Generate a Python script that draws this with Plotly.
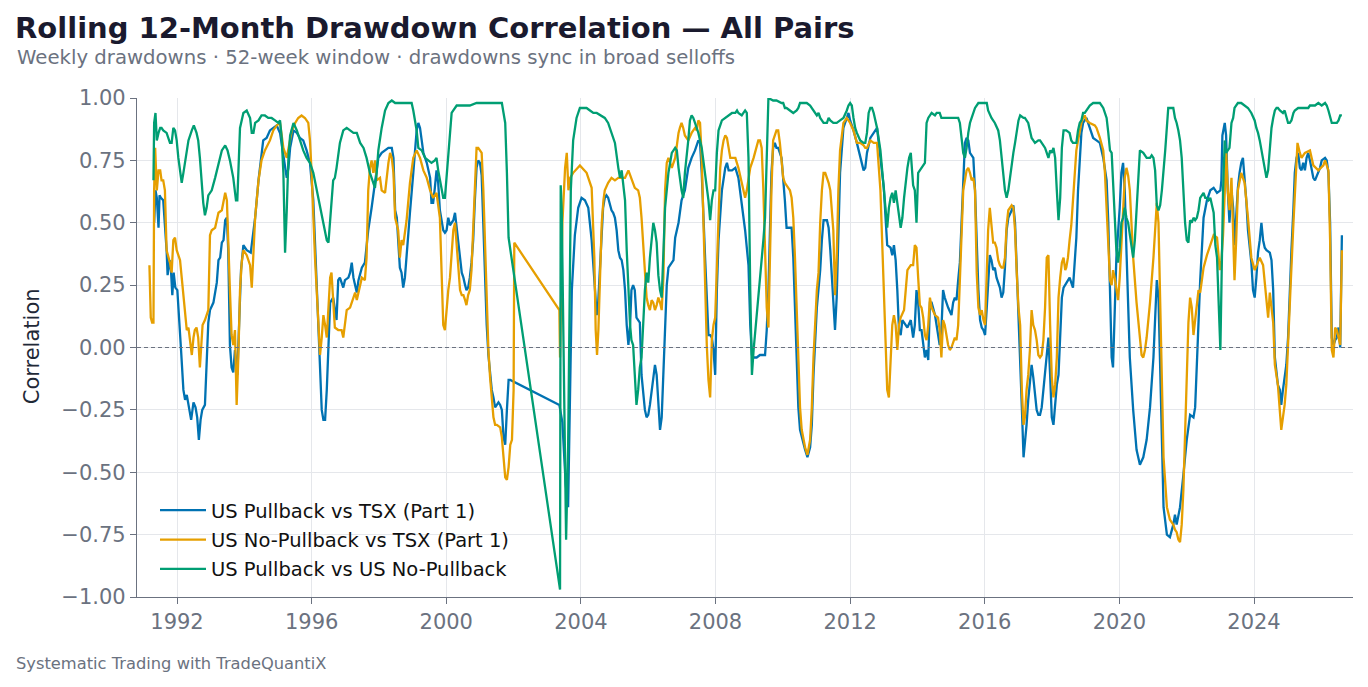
import numpy as np
import pandas as pd
import plotly.graph_objects as go

# (decimal year, correlation)
PB_TSX = [
    (1991.32, 0.50), (1991.36, 0.63), (1991.40, 0.60), (1991.45, 0.48), (1991.48, 0.61), (1991.52, 0.60),
    (1991.59, 0.59), (1991.64, 0.50), (1991.69, 0.39), (1991.72, 0.29), (1991.78, 0.35), (1991.82, 0.31),
    (1991.86, 0.21), (1991.90, 0.30), (1991.95, 0.24), (1992.01, 0.23), (1992.07, 0.12), (1992.12, -0.01),
    (1992.19, -0.17), (1992.24, -0.21), (1992.29, -0.19), (1992.35, -0.24), (1992.42, -0.29), (1992.49, -0.22),
    (1992.55, -0.24), (1992.60, -0.28), (1992.65, -0.37), (1992.70, -0.29), (1992.75, -0.25), (1992.83, -0.23),
    (1992.88, -0.09), (1992.93, 0.10), (1992.98, 0.15), (1993.08, 0.18), (1993.18, 0.26), (1993.23, 0.35),
    (1993.28, 0.36), (1993.33, 0.42), (1993.38, 0.43), (1993.43, 0.51), (1993.48, 0.52), (1993.52, 0.39),
    (1993.57, 0.01), (1993.62, -0.08), (1993.67, -0.10), (1993.72, -0.01), (1993.79, -0.11), (1993.85, 0.17),
    (1993.90, 0.31), (1993.97, 0.41), (1994.07, 0.39), (1994.19, 0.38), (1994.25, 0.44), (1994.32, 0.52),
    (1994.42, 0.67), (1994.51, 0.78), (1994.56, 0.83), (1994.66, 0.84), (1994.76, 0.87), (1994.86, 0.88),
    (1994.96, 0.89), (1995.06, 0.86), (1995.16, 0.76), (1995.26, 0.68), (1995.31, 0.72), (1995.36, 0.80),
    (1995.46, 0.87), (1995.56, 0.86), (1995.65, 0.84), (1995.75, 0.83), (1995.85, 0.79), (1995.95, 0.74),
    (1996.05, 0.59), (1996.15, 0.23), (1996.25, -0.11), (1996.30, -0.25), (1996.35, -0.29), (1996.40, -0.29),
    (1996.45, -0.17), (1996.50, 0.05), (1996.55, 0.18), (1996.64, 0.20), (1996.69, 0.15), (1996.74, 0.11),
    (1996.79, 0.27), (1996.84, 0.28), (1996.94, 0.24), (1996.99, 0.27), (1997.09, 0.28), (1997.14, 0.30),
    (1997.19, 0.34), (1997.24, 0.28), (1997.29, 0.25), (1997.34, 0.22), (1997.39, 0.27), (1997.49, 0.32),
    (1997.58, 0.34), (1997.68, 0.47), (1997.78, 0.56), (1997.88, 0.65), (1997.98, 0.76), (1998.08, 0.78),
    (1998.18, 0.79), (1998.28, 0.80), (1998.38, 0.80), (1998.43, 0.76), (1998.48, 0.55), (1998.53, 0.52),
    (1998.57, 0.43), (1998.62, 0.32), (1998.67, 0.30), (1998.72, 0.24), (1998.77, 0.28), (1998.82, 0.38),
    (1998.92, 0.54), (1999.02, 0.70), (1999.12, 0.87), (1999.17, 0.90), (1999.22, 0.88), (1999.27, 0.83),
    (1999.32, 0.78), (1999.42, 0.74), (1999.52, 0.68), (1999.56, 0.58), (1999.61, 0.58), (1999.66, 0.64),
    (1999.71, 0.71), (1999.76, 0.66), (1999.81, 0.55), (1999.91, 0.47), (1999.96, 0.46), (2000.01, 0.47),
    (2000.06, 0.52), (2000.11, 0.49), (2000.16, 0.50), (2000.21, 0.51), (2000.26, 0.54), (2000.31, 0.47),
    (2000.36, 0.40), (2000.41, 0.36), (2000.46, 0.30), (2000.51, 0.28), (2000.56, 0.25), (2000.60, 0.23),
    (2000.65, 0.24), (2000.70, 0.28), (2000.75, 0.34), (2000.80, 0.43), (2000.85, 0.59), (2000.90, 0.72),
    (2000.95, 0.75), (2001.00, 0.74), (2001.05, 0.69), (2001.10, 0.49), (2001.15, 0.25), (2001.20, 0.09),
    (2001.25, -0.03), (2001.30, -0.11), (2001.35, -0.17), (2001.40, -0.20), (2001.45, -0.24), (2001.50, -0.23),
    (2001.55, -0.22), (2001.60, -0.23), (2001.65, -0.25), (2001.70, -0.36), (2001.75, -0.39), (2001.80, -0.25),
    (2001.85, -0.13), (2001.90, -0.13), (2003.36, -0.23), (2003.45, -0.30), (2003.55, -0.55), (2003.62, -0.64),
    (2003.68, -0.15), (2003.73, 0.23), (2003.82, 0.45), (2003.92, 0.56), (2004.02, 0.60), (2004.12, 0.59),
    (2004.22, 0.56), (2004.32, 0.43), (2004.42, 0.23), (2004.47, 0.13), (2004.51, 0.17), (2004.56, 0.30),
    (2004.61, 0.47), (2004.66, 0.56), (2004.71, 0.60), (2004.76, 0.61), (2004.81, 0.60), (2004.86, 0.57),
    (2004.91, 0.55), (2004.96, 0.54), (2005.01, 0.52), (2005.06, 0.47), (2005.11, 0.39), (2005.16, 0.36),
    (2005.21, 0.35), (2005.26, 0.31), (2005.31, 0.23), (2005.36, 0.09), (2005.41, 0.01), (2005.46, 0.09),
    (2005.50, 0.23), (2005.55, 0.25), (2005.60, 0.23), (2005.65, 0.12), (2005.70, 0.11), (2005.75, 0.10),
    (2005.80, -0.11), (2005.85, -0.17), (2005.90, -0.25), (2005.95, -0.28), (2006.00, -0.27), (2006.05, -0.23),
    (2006.10, -0.17), (2006.15, -0.11), (2006.20, -0.07), (2006.25, -0.11), (2006.30, -0.24), (2006.35, -0.33),
    (2006.40, -0.28), (2006.45, -0.11), (2006.50, 0.09), (2006.55, 0.25), (2006.60, 0.32), (2006.70, 0.34),
    (2006.75, 0.35), (2006.80, 0.44), (2006.90, 0.50), (2006.99, 0.59), (2007.09, 0.63), (2007.19, 0.72),
    (2007.29, 0.76), (2007.39, 0.79), (2007.49, 0.83), (2007.54, 0.82), (2007.59, 0.70), (2007.69, 0.36),
    (2007.79, 0.05), (2007.84, 0.05), (2007.89, 0.04), (2007.94, -0.01), (2007.99, -0.11), (2008.04, 0.23),
    (2008.09, 0.43), (2008.19, 0.63), (2008.29, 0.72), (2008.34, 0.74), (2008.39, 0.71), (2008.49, 0.71),
    (2008.59, 0.72), (2008.68, 0.68), (2008.78, 0.58), (2008.88, 0.47), (2008.98, 0.33), (2009.03, 0.09),
    (2009.08, -0.03), (2009.13, -0.04), (2009.22, -0.04), (2009.32, -0.03), (2009.47, -0.03), (2009.52, 0.07),
    (2009.57, 0.23), (2009.61, 0.50), (2009.66, 0.70), (2009.71, 0.80), (2009.76, 0.82), (2009.81, 0.80),
    (2009.86, 0.80), (2009.96, 0.76), (2010.01, 0.68), (2010.06, 0.59), (2010.11, 0.48), (2010.16, 0.48),
    (2010.26, 0.48), (2010.31, 0.36), (2010.36, 0.16), (2010.41, -0.04), (2010.46, -0.24), (2010.51, -0.33),
    (2010.61, -0.39), (2010.66, -0.41), (2010.73, -0.44), (2010.81, -0.40), (2010.86, -0.31), (2010.91, -0.11),
    (2011.01, 0.16), (2011.06, 0.23), (2011.11, 0.31), (2011.16, 0.43), (2011.21, 0.51), (2011.31, 0.51),
    (2011.36, 0.48), (2011.41, 0.39), (2011.50, 0.20), (2011.55, 0.07), (2011.60, 0.20), (2011.65, 0.47),
    (2011.70, 0.70), (2011.80, 0.88), (2011.90, 0.92), (2011.95, 0.94), (2012.00, 0.91), (2012.10, 0.87),
    (2012.20, 0.82), (2012.30, 0.76), (2012.40, 0.71), (2012.45, 0.72), (2012.50, 0.78), (2012.60, 0.84),
    (2012.70, 0.86), (2012.80, 0.88), (2012.90, 0.76), (2013.00, 0.64), (2013.05, 0.52), (2013.10, 0.41),
    (2013.20, 0.40), (2013.25, 0.37), (2013.30, 0.41), (2013.35, 0.35), (2013.40, 0.23), (2013.45, 0.07),
    (2013.50, 0.05), (2013.55, 0.11), (2013.60, 0.10), (2013.70, 0.08), (2013.80, 0.11), (2013.87, 0.04),
    (2013.92, 0.09), (2013.97, 0.23), (2014.02, 0.18), (2014.07, 0.07), (2014.12, 0.07), (2014.17, 0.01),
    (2014.22, -0.04), (2014.27, -0.01), (2014.32, -0.05), (2014.37, 0.18), (2014.42, 0.18), (2014.52, 0.13),
    (2014.57, 0.09), (2014.61, 0.04), (2014.66, 0.01), (2014.71, 0.07), (2014.76, 0.23), (2014.81, 0.20),
    (2014.91, 0.16), (2015.01, 0.13), (2015.06, 0.18), (2015.11, 0.20), (2015.16, 0.19), (2015.21, 0.27),
    (2015.26, 0.34), (2015.31, 0.50), (2015.36, 0.70), (2015.41, 0.82), (2015.46, 0.84), (2015.51, 0.83),
    (2015.56, 0.78), (2015.66, 0.76), (2015.71, 0.63), (2015.76, 0.39), (2015.81, 0.23), (2015.86, 0.11),
    (2015.91, 0.08), (2015.96, 0.07), (2016.01, 0.05), (2016.06, 0.16), (2016.10, 0.28), (2016.15, 0.37),
    (2016.20, 0.35), (2016.25, 0.31), (2016.30, 0.32), (2016.35, 0.28), (2016.45, 0.24), (2016.50, 0.20),
    (2016.55, 0.22), (2016.60, 0.32), (2016.65, 0.47), (2016.70, 0.52), (2016.80, 0.55), (2016.85, 0.57),
    (2016.90, 0.50), (2016.95, 0.33), (2017.00, 0.11), (2017.05, -0.04), (2017.10, -0.24), (2017.15, -0.44),
    (2017.19, -0.39), (2017.24, -0.31), (2017.29, -0.21), (2017.34, -0.15), (2017.39, -0.07), (2017.44, -0.12),
    (2017.49, -0.19), (2017.54, -0.25), (2017.59, -0.27), (2017.64, -0.27), (2017.69, -0.24), (2017.74, -0.17),
    (2017.79, -0.11), (2017.84, -0.01), (2017.89, 0.04), (2017.94, -0.11), (2017.99, -0.28), (2018.04, -0.31),
    (2018.09, -0.23), (2018.14, -0.15), (2018.19, -0.11), (2018.24, 0.03), (2018.29, 0.20), (2018.34, 0.24),
    (2018.39, 0.25), (2018.42, 0.26), (2018.52, 0.28), (2018.62, 0.24), (2018.67, 0.36), (2018.72, 0.44),
    (2018.77, 0.63), (2018.82, 0.76), (2018.87, 0.86), (2018.92, 0.90), (2018.97, 0.91), (2019.02, 0.92),
    (2019.12, 0.88), (2019.22, 0.84), (2019.32, 0.83), (2019.42, 0.82), (2019.52, 0.76), (2019.62, 0.67),
    (2019.67, 0.50), (2019.72, 0.26), (2019.77, -0.04), (2019.81, -0.08), (2019.86, 0.10), (2019.91, 0.36),
    (2020.01, 0.56), (2020.06, 0.70), (2020.11, 0.74), (2020.16, 0.63), (2020.21, 0.39), (2020.26, 0.16),
    (2020.31, -0.04), (2020.41, -0.25), (2020.51, -0.41), (2020.61, -0.47), (2020.71, -0.44), (2020.81, -0.37),
    (2020.91, -0.24), (2021.01, -0.04), (2021.11, 0.27), (2021.16, 0.20), (2021.21, -0.11), (2021.26, -0.44),
    (2021.31, -0.64), (2021.41, -0.75), (2021.50, -0.76), (2021.60, -0.71), (2021.65, -0.67), (2021.70, -0.71),
    (2021.75, -0.68), (2021.80, -0.64), (2021.90, -0.51), (2022.00, -0.37), (2022.10, -0.27), (2022.20, -0.28),
    (2022.25, -0.24), (2022.30, -0.04), (2022.40, 0.27), (2022.50, 0.52), (2022.60, 0.59), (2022.70, 0.63),
    (2022.80, 0.64), (2022.90, 0.62), (2023.00, 0.63), (2023.03, 0.67), (2023.06, 0.85), (2023.13, 0.90),
    (2023.17, 0.85), (2023.22, 0.63), (2023.27, 0.50), (2023.33, 0.63), (2023.38, 0.56), (2023.42, 0.41),
    (2023.47, 0.52), (2023.52, 0.64), (2023.57, 0.70), (2023.62, 0.74), (2023.67, 0.76), (2023.72, 0.68),
    (2023.77, 0.59), (2023.82, 0.47), (2023.92, 0.34), (2023.97, 0.23), (2024.02, 0.20), (2024.07, 0.28),
    (2024.12, 0.38), (2024.17, 0.43), (2024.22, 0.50), (2024.27, 0.43), (2024.32, 0.40), (2024.37, 0.39),
    (2024.47, 0.38), (2024.52, 0.35), (2024.57, 0.23), (2024.62, -0.04), (2024.67, -0.09), (2024.71, -0.15),
    (2024.77, -0.17), (2024.81, -0.23), (2024.86, -0.17), (2024.91, -0.12), (2024.96, -0.07), (2025.01, 0.04),
    (2025.06, 0.23), (2025.11, 0.39), (2025.17, 0.56), (2025.21, 0.70), (2025.26, 0.76), (2025.31, 0.78),
    (2025.36, 0.72), (2025.41, 0.71), (2025.46, 0.74), (2025.51, 0.71), (2025.56, 0.76), (2025.61, 0.78),
    (2025.66, 0.75), (2025.71, 0.72), (2025.76, 0.68), (2025.81, 0.67), (2025.91, 0.70), (2025.96, 0.72),
    (2026.01, 0.75), (2026.11, 0.76), (2026.16, 0.75), (2026.21, 0.70), (2026.26, 0.50), (2026.31, 0.04),
    (2026.36, 0.01), (2026.41, 0.03), (2026.46, 0.04), (2026.51, 0.08), (2026.56, 0.00), (2026.61, 0.45),
]

NOPB_TSX = [
    (1991.18, 0.33), (1991.22, 0.12), (1991.26, 0.10), (1991.30, 0.10), (1991.32, 0.63), (1991.35, 0.80),
    (1991.40, 0.63), (1991.45, 0.71), (1991.50, 0.71), (1991.54, 0.67), (1991.59, 0.67), (1991.64, 0.63),
    (1991.69, 0.39), (1991.75, 0.36), (1991.79, 0.34), (1991.84, 0.30), (1991.89, 0.43), (1991.94, 0.44),
    (1991.99, 0.39), (1992.04, 0.37), (1992.09, 0.35), (1992.14, 0.28), (1992.19, 0.20), (1992.24, 0.12),
    (1992.29, 0.07), (1992.34, 0.08), (1992.39, 0.01), (1992.44, -0.03), (1992.49, 0.04), (1992.53, 0.07),
    (1992.58, 0.08), (1992.63, 0.04), (1992.68, -0.08), (1992.73, 0.03), (1992.76, 0.09), (1992.83, 0.11),
    (1992.93, 0.15), (1992.98, 0.45), (1993.03, 0.47), (1993.13, 0.48), (1993.23, 0.54), (1993.33, 0.55),
    (1993.38, 0.59), (1993.43, 0.62), (1993.48, 0.59), (1993.52, 0.46), (1993.57, 0.23), (1993.62, 0.05),
    (1993.67, 0.01), (1993.72, 0.07), (1993.77, -0.23), (1993.82, -0.04), (1993.87, 0.23), (1993.92, 0.34),
    (1993.97, 0.39), (1994.07, 0.37), (1994.17, 0.33), (1994.22, 0.24), (1994.27, 0.39), (1994.32, 0.52),
    (1994.42, 0.67), (1994.51, 0.75), (1994.61, 0.79), (1994.76, 0.83), (1994.86, 0.87), (1994.96, 0.89),
    (1995.06, 0.90), (1995.16, 0.80), (1995.26, 0.76), (1995.41, 0.87), (1995.51, 0.90), (1995.60, 0.92),
    (1995.70, 0.93), (1995.80, 0.92), (1995.90, 0.90), (1995.95, 0.83), (1996.00, 0.70), (1996.10, 0.36),
    (1996.20, 0.10), (1996.25, -0.03), (1996.30, 0.04), (1996.35, 0.13), (1996.40, 0.09), (1996.45, 0.04),
    (1996.50, 0.16), (1996.55, 0.28), (1996.59, 0.30), (1996.64, 0.20), (1996.69, 0.08), (1996.79, 0.07),
    (1996.89, 0.07), (1996.94, 0.04), (1996.99, 0.09), (1997.04, 0.15), (1997.14, 0.16), (1997.24, 0.20),
    (1997.29, 0.22), (1997.34, 0.19), (1997.39, 0.22), (1997.44, 0.24), (1997.49, 0.28), (1997.58, 0.27),
    (1997.63, 0.36), (1997.68, 0.63), (1997.73, 0.72), (1997.78, 0.75), (1997.83, 0.70), (1997.88, 0.75),
    (1997.93, 0.67), (1998.03, 0.68), (1998.08, 0.63), (1998.18, 0.62), (1998.23, 0.69), (1998.28, 0.74),
    (1998.33, 0.78), (1998.38, 0.76), (1998.43, 0.70), (1998.48, 0.52), (1998.57, 0.47), (1998.62, 0.36),
    (1998.67, 0.43), (1998.72, 0.41), (1998.82, 0.51), (1998.92, 0.66), (1999.02, 0.76), (1999.12, 0.79),
    (1999.22, 0.76), (1999.32, 0.71), (1999.42, 0.68), (1999.52, 0.63), (1999.61, 0.60), (1999.71, 0.62),
    (1999.81, 0.52), (1999.91, 0.09), (1999.96, 0.07), (2000.01, 0.16), (2000.06, 0.23), (2000.11, 0.28),
    (2000.16, 0.39), (2000.21, 0.47), (2000.26, 0.50), (2000.31, 0.42), (2000.36, 0.32), (2000.41, 0.23),
    (2000.46, 0.21), (2000.51, 0.21), (2000.56, 0.19), (2000.60, 0.17), (2000.65, 0.21), (2000.70, 0.23),
    (2000.75, 0.31), (2000.80, 0.50), (2000.85, 0.68), (2000.90, 0.80), (2000.95, 0.80), (2001.00, 0.79),
    (2001.05, 0.78), (2001.10, 0.63), (2001.15, 0.39), (2001.20, 0.18), (2001.25, -0.01), (2001.30, -0.12),
    (2001.35, -0.21), (2001.40, -0.28), (2001.45, -0.31), (2001.50, -0.31), (2001.60, -0.32), (2001.65, -0.36),
    (2001.70, -0.44), (2001.75, -0.52), (2001.80, -0.53), (2001.85, -0.48), (2001.90, -0.39), (2001.95, -0.37),
    (2002.00, -0.17), (2002.02, 0.42), (2003.36, 0.15), (2003.38, -0.04), (2003.45, 0.50), (2003.53, 0.72),
    (2003.58, 0.78), (2003.63, 0.63), (2003.68, 0.68), (2003.77, 0.70), (2003.97, 0.73), (2004.17, 0.70),
    (2004.32, 0.64), (2004.40, 0.36), (2004.44, 0.07), (2004.48, -0.03), (2004.52, 0.07), (2004.57, 0.30),
    (2004.62, 0.50), (2004.67, 0.59), (2004.71, 0.63), (2004.81, 0.66), (2004.91, 0.68), (2005.01, 0.67),
    (2005.11, 0.68), (2005.21, 0.68), (2005.31, 0.68), (2005.41, 0.71), (2005.50, 0.68), (2005.60, 0.64),
    (2005.70, 0.63), (2005.75, 0.60), (2005.80, 0.52), (2005.85, 0.40), (2005.90, 0.28), (2005.95, 0.20),
    (2006.00, 0.17), (2006.05, 0.15), (2006.10, 0.19), (2006.15, 0.18), (2006.20, 0.15), (2006.25, 0.17),
    (2006.30, 0.20), (2006.35, 0.18), (2006.40, 0.15), (2006.45, 0.28), (2006.50, 0.63), (2006.55, 0.74),
    (2006.60, 0.76), (2006.70, 0.72), (2006.80, 0.76), (2006.85, 0.82), (2006.90, 0.86), (2006.94, 0.88),
    (2006.99, 0.90), (2007.04, 0.88), (2007.09, 0.85), (2007.19, 0.83), (2007.29, 0.86), (2007.39, 0.88),
    (2007.44, 0.87), (2007.49, 0.91), (2007.54, 0.90), (2007.59, 0.76), (2007.64, 0.50), (2007.69, 0.23),
    (2007.74, 0.01), (2007.79, -0.13), (2007.84, -0.20), (2007.89, 0.03), (2007.94, 0.09), (2007.99, 0.12),
    (2008.04, 0.32), (2008.09, 0.56), (2008.14, 0.72), (2008.19, 0.79), (2008.24, 0.83), (2008.29, 0.85),
    (2008.34, 0.84), (2008.39, 0.80), (2008.44, 0.76), (2008.49, 0.76), (2008.59, 0.76), (2008.68, 0.72),
    (2008.78, 0.66), (2008.88, 0.60), (2008.93, 0.63), (2009.03, 0.72), (2009.13, 0.76), (2009.22, 0.80),
    (2009.27, 0.83), (2009.32, 0.83), (2009.37, 0.80), (2009.42, 0.63), (2009.47, 0.36), (2009.52, 0.16),
    (2009.57, 0.08), (2009.61, 0.36), (2009.66, 0.63), (2009.71, 0.83), (2009.81, 0.87), (2009.86, 0.87),
    (2009.91, 0.82), (2010.01, 0.68), (2010.06, 0.66), (2010.16, 0.64), (2010.21, 0.63), (2010.26, 0.60),
    (2010.31, 0.52), (2010.36, 0.36), (2010.41, 0.16), (2010.46, -0.11), (2010.51, -0.24), (2010.56, -0.33),
    (2010.61, -0.37), (2010.66, -0.40), (2010.73, -0.43), (2010.81, -0.37), (2010.86, -0.24), (2010.91, -0.04),
    (2011.01, 0.23), (2011.06, 0.30), (2011.11, 0.50), (2011.16, 0.63), (2011.21, 0.70), (2011.26, 0.70),
    (2011.31, 0.68), (2011.36, 0.66), (2011.41, 0.63), (2011.50, 0.47), (2011.55, 0.21), (2011.60, 0.36),
    (2011.65, 0.63), (2011.70, 0.79), (2011.80, 0.90), (2011.90, 0.92), (2012.00, 0.90), (2012.10, 0.87),
    (2012.20, 0.82), (2012.30, 0.82), (2012.40, 0.81), (2012.45, 0.80), (2012.50, 0.80), (2012.60, 0.83),
    (2012.70, 0.82), (2012.80, 0.82), (2012.90, 0.63), (2012.95, 0.43), (2013.00, 0.23), (2013.05, -0.04),
    (2013.10, -0.17), (2013.15, -0.20), (2013.20, -0.04), (2013.25, 0.09), (2013.30, 0.13), (2013.35, 0.09),
    (2013.40, -0.01), (2013.45, 0.09), (2013.50, 0.12), (2013.60, 0.15), (2013.65, 0.23), (2013.70, 0.31),
    (2013.80, 0.33), (2013.87, 0.33), (2013.92, 0.41), (2013.97, 0.40), (2014.02, 0.28), (2014.07, 0.17),
    (2014.12, 0.16), (2014.17, 0.12), (2014.22, 0.05), (2014.27, 0.03), (2014.32, 0.09), (2014.37, 0.20),
    (2014.42, 0.16), (2014.52, 0.13), (2014.61, 0.12), (2014.66, 0.07), (2014.71, -0.04), (2014.76, 0.11),
    (2014.81, 0.09), (2014.86, 0.05), (2014.91, 0.01), (2014.96, -0.01), (2015.01, 0.00), (2015.11, 0.04),
    (2015.16, 0.03), (2015.21, 0.09), (2015.26, 0.29), (2015.31, 0.43), (2015.36, 0.63), (2015.41, 0.67),
    (2015.46, 0.71), (2015.51, 0.72), (2015.56, 0.70), (2015.61, 0.67), (2015.66, 0.68), (2015.71, 0.63),
    (2015.76, 0.30), (2015.81, 0.16), (2015.86, 0.13), (2015.91, 0.15), (2015.96, 0.11), (2016.01, 0.09),
    (2016.06, 0.26), (2016.10, 0.47), (2016.15, 0.56), (2016.20, 0.50), (2016.25, 0.42), (2016.30, 0.42),
    (2016.35, 0.40), (2016.40, 0.35), (2016.45, 0.33), (2016.50, 0.32), (2016.55, 0.32), (2016.60, 0.36),
    (2016.65, 0.49), (2016.70, 0.55), (2016.80, 0.57), (2016.85, 0.56), (2016.90, 0.47), (2016.95, 0.30),
    (2017.00, 0.16), (2017.05, 0.09), (2017.10, -0.17), (2017.15, -0.31), (2017.19, -0.28), (2017.24, -0.17),
    (2017.29, -0.11), (2017.34, -0.01), (2017.39, 0.15), (2017.44, 0.09), (2017.49, 0.07), (2017.54, 0.03),
    (2017.59, -0.03), (2017.64, -0.04), (2017.69, -0.03), (2017.74, 0.03), (2017.79, 0.16), (2017.84, 0.36),
    (2017.89, 0.37), (2017.94, 0.09), (2017.99, -0.12), (2018.04, -0.20), (2018.09, -0.15), (2018.14, -0.04),
    (2018.19, 0.20), (2018.24, 0.28), (2018.29, 0.34), (2018.34, 0.36), (2018.39, 0.31), (2018.42, 0.32),
    (2018.47, 0.36), (2018.52, 0.43), (2018.57, 0.49), (2018.62, 0.59), (2018.67, 0.70), (2018.72, 0.79),
    (2018.77, 0.83), (2018.82, 0.87), (2018.87, 0.90), (2018.92, 0.92), (2018.97, 0.93), (2019.02, 0.91),
    (2019.12, 0.90), (2019.27, 0.89), (2019.32, 0.88), (2019.42, 0.84), (2019.52, 0.79), (2019.57, 0.70),
    (2019.62, 0.56), (2019.67, 0.43), (2019.72, 0.27), (2019.77, 0.25), (2019.81, 0.31), (2019.86, 0.28),
    (2019.91, 0.23), (2019.96, 0.19), (2020.01, 0.28), (2020.06, 0.43), (2020.11, 0.56), (2020.16, 0.68),
    (2020.21, 0.72), (2020.26, 0.69), (2020.31, 0.63), (2020.36, 0.50), (2020.41, 0.36), (2020.51, 0.18),
    (2020.61, 0.03), (2020.66, -0.03), (2020.71, -0.04), (2020.76, -0.01), (2020.81, 0.04), (2020.91, 0.18),
    (2021.01, 0.36), (2021.06, 0.50), (2021.11, 0.58), (2021.16, 0.50), (2021.21, 0.16), (2021.26, -0.17),
    (2021.31, -0.44), (2021.41, -0.64), (2021.50, -0.69), (2021.60, -0.71), (2021.65, -0.73), (2021.70, -0.74),
    (2021.75, -0.77), (2021.80, -0.78), (2021.85, -0.71), (2021.90, -0.57), (2021.95, -0.31), (2022.00, -0.11),
    (2022.05, 0.10), (2022.10, 0.20), (2022.15, 0.16), (2022.20, 0.05), (2022.25, 0.11), (2022.30, 0.17),
    (2022.35, 0.23), (2022.40, 0.22), (2022.50, 0.32), (2022.60, 0.37), (2022.70, 0.41), (2022.80, 0.45),
    (2022.90, 0.44), (2022.98, 0.31), (2023.03, 0.35), (2023.08, 0.45), (2023.13, 0.62), (2023.17, 0.79),
    (2023.22, 0.63), (2023.27, 0.55), (2023.33, 0.68), (2023.38, 0.45), (2023.42, 0.27), (2023.47, 0.43),
    (2023.52, 0.63), (2023.62, 0.70), (2023.72, 0.66), (2023.82, 0.52), (2023.92, 0.36), (2024.02, 0.31),
    (2024.12, 0.34), (2024.17, 0.36), (2024.27, 0.33), (2024.37, 0.17), (2024.42, 0.12), (2024.47, 0.22),
    (2024.57, 0.10), (2024.62, -0.07), (2024.71, -0.15), (2024.81, -0.33), (2024.91, -0.23), (2024.96, -0.15),
    (2025.01, 0.03), (2025.08, 0.23), (2025.17, 0.50), (2025.24, 0.70), (2025.29, 0.82), (2025.36, 0.78),
    (2025.41, 0.76), (2025.51, 0.78), (2025.66, 0.79), (2025.76, 0.73), (2025.91, 0.71), (2026.06, 0.73),
    (2026.11, 0.75), (2026.21, 0.71), (2026.26, 0.43), (2026.31, -0.01), (2026.36, -0.04), (2026.41, 0.08),
    (2026.46, 0.07), (2026.51, 0.04), (2026.56, 0.01), (2026.61, 0.39),
]

PB_NOPB = [
    (1991.30, 0.67), (1991.32, 0.90), (1991.36, 0.94), (1991.40, 0.83), (1991.45, 0.86), (1991.50, 0.88),
    (1991.54, 0.88), (1991.59, 0.87), (1991.69, 0.86), (1991.75, 0.84), (1991.79, 0.82), (1991.84, 0.82),
    (1991.89, 0.88), (1991.94, 0.87), (1991.99, 0.83), (1992.04, 0.76), (1992.09, 0.70), (1992.14, 0.66),
    (1992.19, 0.70), (1992.24, 0.75), (1992.34, 0.83), (1992.44, 0.87), (1992.50, 0.89), (1992.58, 0.86),
    (1992.63, 0.83), (1992.68, 0.76), (1992.73, 0.67), (1992.78, 0.58), (1992.83, 0.53), (1992.88, 0.56),
    (1992.93, 0.61), (1993.03, 0.63), (1993.13, 0.68), (1993.23, 0.74), (1993.33, 0.79), (1993.43, 0.81),
    (1993.50, 0.79), (1993.57, 0.75), (1993.67, 0.68), (1993.75, 0.59), (1993.79, 0.59), (1993.87, 0.88),
    (1993.97, 0.94), (1994.07, 0.95), (1994.17, 0.92), (1994.22, 0.86), (1994.27, 0.86), (1994.32, 0.90),
    (1994.42, 0.91), (1994.51, 0.93), (1994.61, 0.93), (1994.71, 0.92), (1994.81, 0.92), (1994.91, 0.91),
    (1995.01, 0.90), (1995.06, 0.91), (1995.11, 0.84), (1995.16, 0.70), (1995.21, 0.38), (1995.26, 0.55),
    (1995.31, 0.76), (1995.36, 0.85), (1995.46, 0.90), (1995.56, 0.87), (1995.65, 0.83), (1995.75, 0.79),
    (1995.85, 0.76), (1995.95, 0.74), (1996.05, 0.70), (1996.15, 0.63), (1996.25, 0.56), (1996.35, 0.50),
    (1996.45, 0.43), (1996.50, 0.42), (1996.55, 0.50), (1996.59, 0.59), (1996.64, 0.67), (1996.69, 0.68),
    (1996.74, 0.72), (1996.84, 0.82), (1996.94, 0.87), (1997.04, 0.88), (1997.14, 0.87), (1997.24, 0.86),
    (1997.34, 0.86), (1997.44, 0.82), (1997.54, 0.80), (1997.63, 0.76), (1997.73, 0.70), (1997.78, 0.68),
    (1997.83, 0.66), (1997.88, 0.64), (1997.93, 0.70), (1997.98, 0.79), (1998.08, 0.88), (1998.18, 0.95),
    (1998.28, 0.98), (1998.38, 0.99), (1998.48, 0.98), (1998.57, 0.98), (1998.67, 0.98), (1998.77, 0.98),
    (1998.97, 0.98), (1999.02, 0.95), (1999.12, 0.87), (1999.17, 0.80), (1999.27, 0.79), (1999.37, 0.76),
    (1999.47, 0.75), (1999.56, 0.74), (1999.66, 0.75), (1999.71, 0.76), (1999.76, 0.71), (1999.86, 0.63),
    (1999.91, 0.60), (1999.96, 0.60), (2000.01, 0.68), (2000.06, 0.79), (2000.11, 0.87), (2000.16, 0.94),
    (2000.21, 0.95), (2000.31, 0.97), (2000.41, 0.97), (2000.51, 0.97), (2000.70, 0.97), (2000.90, 0.98),
    (2001.10, 0.98), (2001.30, 0.98), (2001.50, 0.98), (2001.65, 0.98), (2001.70, 0.94), (2001.75, 0.90),
    (2001.80, 0.70), (2001.85, 0.44), (2003.38, -0.97), (2003.40, 0.65), (2003.43, 0.55), (2003.56, -0.77),
    (2003.62, -0.40), (2003.70, 0.63), (2003.77, 0.83), (2003.87, 0.92), (2003.97, 0.96), (2004.07, 0.96),
    (2004.17, 0.96), (2004.27, 0.95), (2004.37, 0.94), (2004.47, 0.94), (2004.61, 0.93), (2004.71, 0.92),
    (2004.81, 0.90), (2004.91, 0.86), (2005.01, 0.82), (2005.11, 0.72), (2005.16, 0.68), (2005.21, 0.71),
    (2005.31, 0.59), (2005.36, 0.39), (2005.41, 0.23), (2005.46, 0.09), (2005.50, 0.03), (2005.55, 0.01),
    (2005.60, -0.11), (2005.65, -0.23), (2005.70, -0.17), (2005.75, -0.08), (2005.80, -0.04), (2005.85, 0.09),
    (2005.90, 0.23), (2005.95, 0.30), (2006.00, 0.26), (2006.05, 0.36), (2006.10, 0.43), (2006.15, 0.50),
    (2006.20, 0.47), (2006.25, 0.42), (2006.30, 0.29), (2006.35, 0.23), (2006.40, 0.20), (2006.45, 0.36),
    (2006.50, 0.56), (2006.60, 0.70), (2006.70, 0.78), (2006.80, 0.80), (2006.85, 0.79), (2006.90, 0.72),
    (2006.94, 0.67), (2006.99, 0.63), (2007.04, 0.60), (2007.09, 0.70), (2007.19, 0.83), (2007.24, 0.91),
    (2007.29, 0.93), (2007.34, 0.92), (2007.39, 0.90), (2007.49, 0.86), (2007.59, 0.80), (2007.69, 0.70),
    (2007.74, 0.64), (2007.79, 0.59), (2007.84, 0.51), (2007.89, 0.59), (2007.94, 0.63), (2007.99, 0.63),
    (2008.04, 0.78), (2008.09, 0.87), (2008.19, 0.91), (2008.29, 0.92), (2008.39, 0.93), (2008.49, 0.94),
    (2008.59, 0.94), (2008.64, 0.95), (2008.68, 0.94), (2008.78, 0.93), (2008.83, 0.94), (2008.88, 0.95),
    (2008.93, 0.94), (2008.98, 0.76), (2009.03, 0.23), (2009.08, -0.11), (2009.13, -0.01), (2009.22, 0.12),
    (2009.32, 0.27), (2009.42, 0.43), (2009.47, 0.52), (2009.52, 0.76), (2009.55, 0.99), (2009.57, 1.00),
    (2009.71, 0.99), (2009.81, 0.99), (2009.96, 0.98), (2010.01, 0.98), (2010.06, 0.96), (2010.11, 0.96),
    (2010.21, 0.95), (2010.31, 0.94), (2010.41, 0.95), (2010.46, 0.96), (2010.51, 0.98), (2010.61, 0.98),
    (2010.71, 0.98), (2010.81, 0.97), (2010.86, 0.96), (2010.91, 0.95), (2010.96, 0.94), (2011.01, 0.93),
    (2011.06, 0.94), (2011.11, 0.92), (2011.16, 0.91), (2011.21, 0.90), (2011.31, 0.90), (2011.36, 0.92),
    (2011.41, 0.91), (2011.50, 0.90), (2011.55, 0.90), (2011.60, 0.90), (2011.70, 0.91), (2011.80, 0.92),
    (2011.90, 0.95), (2011.95, 0.97), (2012.00, 0.98), (2012.05, 0.97), (2012.10, 0.92), (2012.15, 0.88),
    (2012.20, 0.86), (2012.30, 0.83), (2012.40, 0.82), (2012.45, 0.82), (2012.50, 0.86), (2012.55, 0.94),
    (2012.60, 0.96), (2012.65, 0.96), (2012.70, 0.94), (2012.80, 0.88), (2012.90, 0.79), (2013.00, 0.63),
    (2013.05, 0.56), (2013.10, 0.48), (2013.15, 0.56), (2013.20, 0.60), (2013.25, 0.62), (2013.30, 0.58),
    (2013.35, 0.63), (2013.40, 0.58), (2013.45, 0.52), (2013.50, 0.48), (2013.55, 0.52), (2013.60, 0.60),
    (2013.70, 0.72), (2013.75, 0.76), (2013.80, 0.78), (2013.87, 0.65), (2013.92, 0.63), (2013.97, 0.50),
    (2014.02, 0.70), (2014.07, 0.71), (2014.12, 0.72), (2014.22, 0.74), (2014.27, 0.90), (2014.32, 0.92),
    (2014.42, 0.94), (2014.52, 0.93), (2014.57, 0.94), (2014.66, 0.94), (2014.71, 0.92), (2014.81, 0.92),
    (2015.01, 0.92), (2015.21, 0.92), (2015.26, 0.90), (2015.31, 0.84), (2015.36, 0.78), (2015.41, 0.76),
    (2015.46, 0.80), (2015.51, 0.86), (2015.56, 0.90), (2015.61, 0.92), (2015.66, 0.94), (2015.71, 0.96),
    (2015.81, 0.98), (2015.91, 0.98), (2016.01, 0.98), (2016.06, 0.98), (2016.10, 0.95), (2016.20, 0.92),
    (2016.30, 0.90), (2016.40, 0.87), (2016.45, 0.83), (2016.50, 0.76), (2016.55, 0.70), (2016.60, 0.63),
    (2016.65, 0.60), (2016.70, 0.63), (2016.75, 0.68), (2016.80, 0.74), (2016.85, 0.78), (2016.90, 0.82),
    (2016.95, 0.87), (2017.00, 0.91), (2017.05, 0.93), (2017.15, 0.92), (2017.19, 0.92), (2017.24, 0.91),
    (2017.29, 0.90), (2017.34, 0.87), (2017.39, 0.84), (2017.44, 0.83), (2017.49, 0.82), (2017.59, 0.83),
    (2017.64, 0.83), (2017.69, 0.82), (2017.74, 0.81), (2017.79, 0.80), (2017.84, 0.78), (2017.89, 0.76),
    (2017.94, 0.79), (2017.99, 0.78), (2018.04, 0.80), (2018.09, 0.76), (2018.14, 0.63), (2018.19, 0.51),
    (2018.24, 0.60), (2018.29, 0.80), (2018.34, 0.87), (2018.42, 0.87), (2018.52, 0.86), (2018.57, 0.83),
    (2018.62, 0.82), (2018.72, 0.82), (2018.77, 0.87), (2018.82, 0.90), (2018.87, 0.91), (2018.92, 0.94),
    (2018.97, 0.94), (2019.02, 0.95), (2019.12, 0.97), (2019.22, 0.98), (2019.32, 0.98), (2019.42, 0.98),
    (2019.52, 0.96), (2019.62, 0.92), (2019.67, 0.86), (2019.72, 0.79), (2019.77, 0.78), (2019.81, 0.66),
    (2019.86, 0.50), (2019.91, 0.39), (2019.96, 0.34), (2020.01, 0.40), (2020.06, 0.50), (2020.11, 0.52),
    (2020.16, 0.56), (2020.21, 0.52), (2020.26, 0.50), (2020.31, 0.45), (2020.36, 0.39), (2020.41, 0.36),
    (2020.46, 0.43), (2020.51, 0.56), (2020.56, 0.70), (2020.61, 0.79), (2020.71, 0.78), (2020.81, 0.76),
    (2020.91, 0.76), (2020.96, 0.77), (2021.01, 0.76), (2021.06, 0.71), (2021.11, 0.57), (2021.16, 0.55),
    (2021.21, 0.57), (2021.26, 0.63), (2021.36, 0.79), (2021.41, 0.88), (2021.45, 0.96), (2021.50, 0.96),
    (2021.55, 0.96), (2021.60, 0.96), (2021.65, 0.92), (2021.70, 0.90), (2021.75, 0.87), (2021.80, 0.83),
    (2021.85, 0.76), (2021.90, 0.63), (2021.95, 0.50), (2022.00, 0.43), (2022.05, 0.42), (2022.10, 0.51),
    (2022.15, 0.50), (2022.20, 0.52), (2022.25, 0.51), (2022.30, 0.52), (2022.35, 0.55), (2022.40, 0.60),
    (2022.45, 0.61), (2022.50, 0.62), (2022.55, 0.60), (2022.60, 0.60), (2022.65, 0.59), (2022.70, 0.60),
    (2022.80, 0.54), (2022.85, 0.41), (2022.90, 0.36), (2022.95, 0.16), (2023.00, -0.01), (2023.03, 0.23),
    (2023.08, 0.63), (2023.13, 0.83), (2023.17, 0.78), (2023.22, 0.79), (2023.27, 0.80), (2023.33, 0.90),
    (2023.38, 0.92), (2023.42, 0.96), (2023.52, 0.98), (2023.62, 0.98), (2023.72, 0.97), (2023.82, 0.96),
    (2023.92, 0.94), (2024.02, 0.91), (2024.07, 0.88), (2024.12, 0.86), (2024.17, 0.83), (2024.22, 0.79),
    (2024.27, 0.75), (2024.32, 0.71), (2024.37, 0.68), (2024.42, 0.71), (2024.47, 0.79), (2024.52, 0.88),
    (2024.57, 0.92), (2024.62, 0.95), (2024.67, 0.96), (2024.71, 0.96), (2024.77, 0.95), (2024.86, 0.94),
    (2024.91, 0.95), (2024.96, 0.93), (2025.01, 0.90), (2025.06, 0.90), (2025.11, 0.91), (2025.17, 0.94),
    (2025.21, 0.95), (2025.31, 0.96), (2025.41, 0.96), (2025.51, 0.96), (2025.61, 0.96), (2025.66, 0.97),
    (2025.71, 0.97), (2025.81, 0.97), (2025.91, 0.98), (2026.01, 0.97), (2026.11, 0.98), (2026.16, 0.97),
    (2026.21, 0.95), (2026.26, 0.92), (2026.31, 0.90), (2026.36, 0.90), (2026.41, 0.90), (2026.46, 0.90),
    (2026.51, 0.91), (2026.56, 0.93), (2026.61, 0.93),
]

SERIES_NAMES = ["US Pullback vs TSX (Part 1)", "US No-Pullback vs TSX (Part 1)", "US Pullback vs US No-Pullback"]
SERIES_COLORS = ["#0072B2", "#E69F00", "#009E73"]
YEAR_TICKS = [1992, 1996, 2000, 2004, 2008, 2012, 2016, 2020, 2024]
Y_TICKS = [-1.0, -0.75, -0.5, -0.25, 0.0, 0.25, 0.5, 0.75, 1.0]
X_RANGE = [1990.81, 2026.94]


def to_dates(years):
    years = np.asarray(years, dtype=float)
    whole = np.floor(years).astype(int)
    start = pd.to_datetime(whole.astype(str), format="%Y")
    return (start + pd.to_timedelta((years - whole) * 365.25, unit="D")).round("h")


GRID = "#e5e7eb"
AXIS = "#6b7280"

# the page puts the figure 8px in from the top-left corner
OFF = 8
W, H = 1368 - 2 * OFF, 687 - 2 * OFF
PLOT_L, PLOT_R, PLOT_T, PLOT_B = 137 - OFF, 1353 - OFF, 97.5 - OFF, 597 - OFF
pw, ph = PLOT_R - PLOT_L, PLOT_B - PLOT_T


def px(x):
    return (x - OFF - PLOT_L) / pw


def py(y):
    return (PLOT_B - (y - OFF)) / ph


fig = go.Figure()
for i, (pts, name, color) in enumerate(zip([PB_TSX, NOPB_TSX, PB_NOPB], SERIES_NAMES, SERIES_COLORS)):
    t, r = zip(*pts)
    fig.add_trace(go.Scatter(x=to_dates(t), y=r, mode="lines", name=name, legendgroup=f"g{i}",
                             line=dict(color=color, width=2.3)))

fig.add_hline(y=0, line=dict(color=AXIS, width=1.1, dash="4px,3px"))

fig.update_xaxes(
    type="date", range=list(to_dates(X_RANGE)),
    tickvals=list(to_dates(YEAR_TICKS)), ticktext=[str(y) for y in YEAR_TICKS],
    showgrid=True, gridcolor=GRID, gridwidth=1, zeroline=False,
    showline=True, linecolor=AXIS, linewidth=1.3,
    ticks="outside", ticklen=6, tickwidth=1.2, tickcolor=AXIS,
    tickfont=dict(size=21, color=AXIS),
)
fig.update_yaxes(
    range=[-1.0, 1.0], tickvals=Y_TICKS,
    ticktext=[f"{v:.2f}".replace("-", "\u2212") for v in Y_TICKS],
    showgrid=True, gridcolor=GRID, gridwidth=1, zeroline=False,
    showline=True, linecolor=AXIS, linewidth=1.3,
    ticks="outside", ticklen=6, tickwidth=1.2, tickcolor=AXIS,
    tickfont=dict(size=21, color=AXIS),
)

fig.update_layout(
    width=W, height=H,
    margin=dict(l=PLOT_L, r=W - PLOT_R, t=PLOT_T, b=H - PLOT_B, pad=0),
    paper_bgcolor="white", plot_bgcolor="white",
    font=dict(family="DejaVu Sans", color=AXIS),
    title=dict(text="<b>Rolling 12-Month Drawdown Correlation — All Pairs</b>",
               x=(15 - OFF) / W, xanchor="left", y=1 - (28 - OFF) / H, yanchor="middle",
               font=dict(size=29, color="#1a1a2e")),
    legend=dict(x=px(155), y=py(589), xanchor="left", yanchor="bottom",
                itemwidth=46, tracegroupgap=1, traceorder="grouped",
                bgcolor="rgba(255,255,255,0)", font=dict(size=19.5, color="#111111")),
    showlegend=True,
)

fig.add_annotation(text="Weekly drawdowns · 52-week window · drawdowns sync in broad selloffs",
                   xref="paper", yref="paper", x=px(15), y=py(57),
                   xanchor="left", yanchor="middle", showarrow=False,
                   font=dict(size=19.7, color=AXIS))
fig.add_annotation(text="Correlation", xref="paper", yref="paper",
                   x=px(32), y=py(346), textangle=-90,
                   xanchor="center", yanchor="middle", showarrow=False,
                   font=dict(size=21, color="#1f2937"))
fig.add_annotation(text="Systematic Trading with TradeQuantiX",
                   xref="paper", yref="paper", x=px(14), y=py(664),
                   xanchor="left", yanchor="middle", showarrow=False,
                   font=dict(size=16.3, color=AXIS))

fig.write_html("out.html")
